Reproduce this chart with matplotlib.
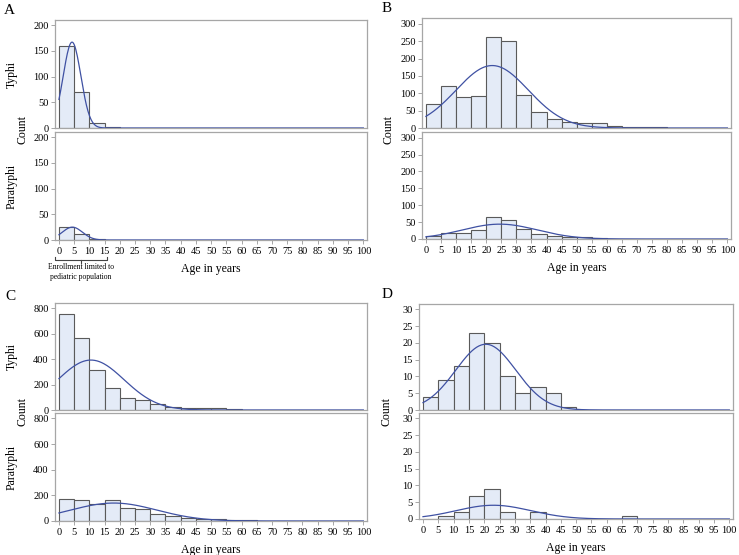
import numpy as np
import matplotlib
matplotlib.use("Agg")
import matplotlib.pyplot as plt

plt.rcParams['font.family'] = ['Liberation Serif', 'DejaVu Serif']

# bin left edges, 5-year bins from 0 to 100
bin_edges = list(range(0, 100, 5))
x_ticks = list(range(0, 105, 5))

# counts per bin
a_typhi = [160, 70, 10, 1, 0, 0, 0, 0, 0, 0, 0, 0, 0, 0, 0, 0, 0, 0, 0, 0]
a_para = [25, 11, 2, 0, 0, 0, 0, 0, 0, 0, 0, 0, 0, 0, 0, 0, 0, 0, 0, 0]
b_typhi = [68, 122, 88, 92, 261, 251, 96, 47, 27, 18, 14, 13, 6, 2, 2, 2, 1, 1, 0, 0]
b_para = [10, 18, 17, 28, 64, 57, 30, 15, 10, 6, 7, 4, 1, 1, 0, 1, 0, 0, 0, 0]
c_typhi = [753, 570, 312, 171, 92, 76, 47, 26, 16, 13, 13, 5, 2, 2, 1, 3, 1, 0, 0, 0]
c_para = [168, 166, 132, 160, 99, 91, 54, 37, 24, 16, 18, 10, 10, 0, 0, 0, 0, 0, 0, 0]
d_typhi = [4, 9, 13, 23, 20, 10, 5, 7, 5, 1, 0, 0, 0, 0, 0, 0, 0, 0, 0, 0]
d_para = [0, 1, 2, 7, 9, 2, 0, 2, 0, 0, 0, 0, 0, 1, 0, 0, 0, 0, 0, 0]

# fitted normal curves: (mean, sd, peak height)
a_typhi_fit = (4.3, 2.9, 167)
a_para_fit = (4.4, 3.3, 25)
b_typhi_fit = (22.0, 12.0, 180)
b_para_fit = (24.5, 12.5, 44)
c_typhi_fit = (10.5, 10.9, 393)
c_para_fit = (18.0, 14.2, 140)
d_typhi_fit = (20.5, 9.8, 19.6)
d_para_fit = (23.0, 12.2, 4.1)

a_yticks = [0, 50, 100, 150, 200]
b_yticks = [0, 50, 100, 150, 200, 250, 300]
c_yticks = [0, 200, 400, 600, 800]
d_yticks = [0, 5, 10, 15, 20, 25, 30]

W, H = 739, 555
FRAME = '#a6a6a6'
BAR_FILL = '#e4ebf7'
BAR_EDGE = '#5a5a5a'
LINE = '#3f51a3'

fig = plt.figure(figsize=(W / 100, H / 100), dpi=100)


def px_axes(left, right, top, bottom):
    return fig.add_axes([left / W, 1 - bottom / H, (right - left) / W, (bottom - top) / H])


def draw_hist(ax, counts, fit, yticks, ymax, xlabels):
    ax.bar(bin_edges, counts, width=5, align='edge', color=BAR_FILL,
           edgecolor=BAR_EDGE, linewidth=0.8, zorder=2)
    xs = np.linspace(0, 100, 400)
    mu, sd, peak = fit
    ax.plot(xs, peak * np.exp(-(xs - mu) ** 2 / (2 * sd ** 2)), color=LINE, lw=0.9, zorder=3)
    ax.set_xlim(-1.3, 101.2)
    ax.set_ylim(0, ymax)
    ax.set_yticks(yticks)
    ax.set_xticks(x_ticks)
    for s in ax.spines.values():
        s.set_color(FRAME)
        s.set_linewidth(0.9)
    ax.tick_params(axis='y', labelsize=7.5, length=3, width=0.7, color=FRAME, pad=1.5)
    if xlabels:
        ax.tick_params(axis='x', labelsize=7.5, length=3, width=0.7, color=FRAME, pad=2)
    else:
        ax.tick_params(axis='x', length=0, labelbottom=False)


def panel(letter, letter_xy, box, data, ymax, yticks, row_labels):
    left, right, top, mid1, mid2, bottom = box
    ax1 = px_axes(left, right, top, mid1)
    ax2 = px_axes(left, right, mid2, bottom)
    draw_hist(ax1, data[0], data[1], yticks, ymax, False)
    draw_hist(ax2, data[2], data[3], yticks, ymax, True)
    fig.text(letter_xy[0] / W, 1 - letter_xy[1] / H, letter, fontsize=11, ha='left', va='center')
    fig.text((left - 33) / W, 1 - (mid1 + 2) / H, 'Count', fontsize=8.5, rotation=90,
             ha='center', va='center')
    if row_labels:
        fig.text((left - 43) / W, 1 - (top + mid1) / 2 / H, 'Typhi', fontsize=8.5,
                 rotation=90, ha='center', va='center')
        fig.text((left - 43) / W, 1 - (mid2 + bottom) / 2 / H, 'Paratyphi', fontsize=8.5,
                 rotation=90, ha='center', va='center')
    fig.text((left + right) / 2 / W, 1 - (bottom + 29) / H, 'Age in years', fontsize=8.5,
             ha='center', va='center')
    return ax2


panel('A', (4, 10), (55, 367, 20, 128, 132, 240),
      (a_typhi, a_typhi_fit, a_para, a_para_fit), 210, a_yticks, True)
panel('B', (382, 9), (422, 731, 18, 128, 132, 239),
      (b_typhi, b_typhi_fit, b_para, b_para_fit), 317, b_yticks, False)
panel('C', (5, 296), (55, 367, 303, 410, 413, 521),
      (c_typhi, c_typhi_fit, c_para, c_para_fit), 842, c_yticks, True)
panel('D', (382, 295), (419, 733, 304, 410, 413, 519),
      (d_typhi, d_typhi_fit, d_para, d_para_fit), 31.6, d_yticks, False)

# bracket under the 0-15 range in panel A
bx0, bx1, by = 55 / W, 107 / W, 1 - 260 / H
fig.add_artist(plt.Line2D([bx0, bx0, bx1, bx1], [by + 3 / H, by, by, by + 3 / H],
                          color='#444444', lw=0.8))
fig.add_artist(plt.Line2D([81 / W, 81 / W], [by, by - 3 / H], color='#444444', lw=0.8))
fig.text(81 / W, 1 - 272 / H, 'Enrollment limited to\npediatric population', fontsize=5.5,
         ha='center', va='center', linespacing=1.2)

fig.savefig('out.png', dpi=100)
